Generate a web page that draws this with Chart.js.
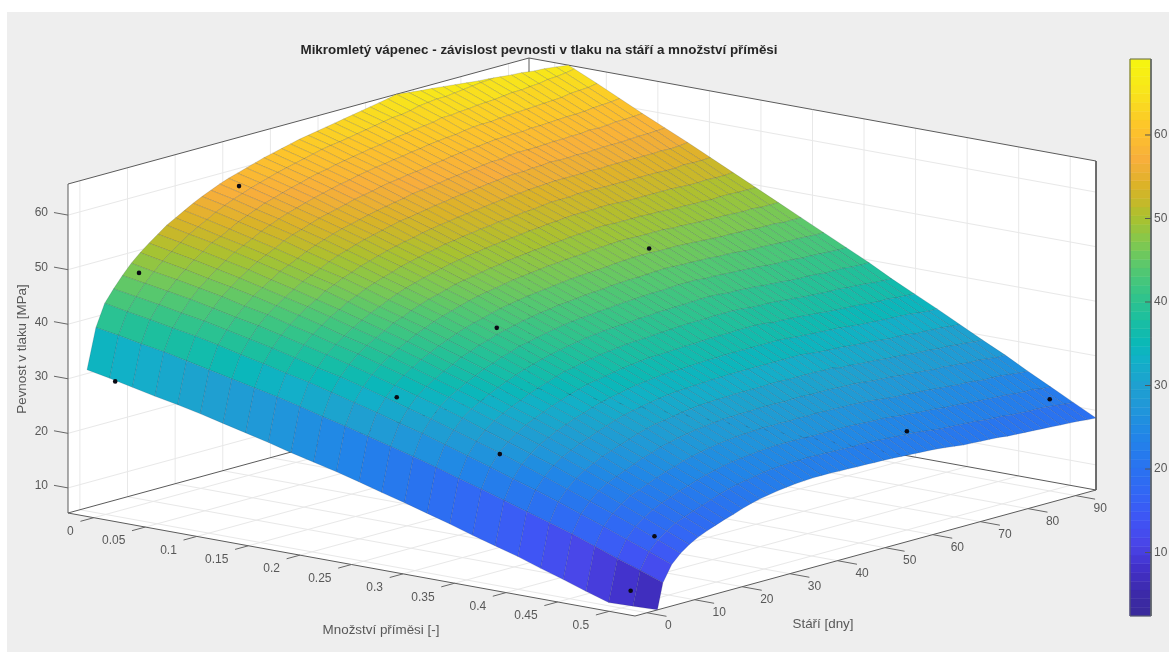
<!DOCTYPE html>
<html>
<head>
<meta charset="utf-8">
<title>Mikromletý vápenec</title>
<script src="https://cdn.jsdelivr.net/npm/chart.js@4"></script>
<style>
    html, body { margin: 0; padding: 0; background: #fff; overflow: hidden; }
    #panel { position: absolute; left: 7px; top: 12px; right: 0; bottom: 0; background: #eeeeee; }
    #chart { position: absolute; left: 0; top: 0; filter: blur(0.4px); }
</style>
</head>
<body>
<div id="panel"></div>
<canvas id="chart" width="1169" height="652"></canvas>
<script>
const titleText = 'Mikromletý vápenec - závislost pevnosti v tlaku na stáří a množství příměsi';
const admixLabel = 'Množství příměsi [-]';
const ageLabel = 'Stáří [dny]';
const strengthLabel = 'Pevnost v tlaku [MPa]';

const admixTicks = [0, 0.05, 0.1, 0.15, 0.2, 0.25, 0.3, 0.35, 0.4, 0.45, 0.5];
const ageTicks = [0, 10, 20, 30, 40, 50, 60, 70, 80, 90];
const strengthTicks = [10, 20, 30, 40, 50, 60];
const colorbarTicks = [10, 20, 30, 40, 50, 60];

// measured points
const dotAdmix = [0, 0, 0, 0.25, 0.25, 0.25, 0.35, 0.5, 0.5, 0.5, 0.5];
const dotAge = [2, 7, 28, 7, 28, 60, 7, 2, 7, 60, 90];
const dotStrength = [29.3, 48, 58.9, 33.8, 41.5, 48.4, 26.8, 8.1, 16.9, 23.5, 22.2];

// fitted surface, one row per age
const admixValues = [-0.025, -0.003, 0.019, 0.041, 0.063, 0.085, 0.107, 0.129, 0.151, 0.173, 0.195, 0.217, 0.239, 0.261, 0.283, 0.305, 0.327, 0.349, 0.371, 0.393, 0.415, 0.437, 0.459, 0.481, 0.503, 0.525];
const ageValues = [1.5, 3.36, 5.21, 7.07, 8.92, 10.78, 12.64, 14.49, 16.35, 18.2, 20.06, 21.92, 23.77, 25.63, 27.48, 29.34, 31.2, 33.05, 34.91, 36.76, 38.62, 40.48, 42.33, 44.19, 46.04, 47.9, 49.76, 51.61, 53.47, 55.32, 57.18, 59.04, 60.89, 62.75, 64.6, 66.46, 68.32, 70.17, 72.03, 73.88, 75.74, 77.6, 79.45, 81.31, 83.16, 85.02, 86.88, 88.73, 90.59, 92.44, 94.3];
const strengthRows = [
    [30.7,29.9,29.0,28.1,27.3,26.4,25.4,24.4,23.4,22.3,21.3,20.3,19.2,18.0,16.9,15.7,14.5,13.2,12.0,10.8,9.4,8.1,6.7,5.4,3.9,2.5],
    [38.0,37.3,36.5,35.8,34.9,34.0,33.1,32.2,31.3,30.3,29.2,28.2,27.1,26.0,24.9,23.7,22.4,21.2,19.9,18.6,17.3,16.0,14.5,13.0,11.6,10.1],
    [42.0,41.2,40.5,39.7,39.0,38.1,37.1,36.2,35.2,34.3,33.2,32.1,31.0,29.8,28.7,27.4,26.1,24.8,23.4,22.1,20.7,19.2,17.7,16.1,14.6,13.0],
    [44.2,43.5,42.8,42.0,41.3,40.4,39.5,38.6,37.6,36.5,35.6,34.5,33.3,32.1,30.9,29.6,28.3,27.0,25.6,24.1,22.6,21.1,19.6,18.0,16.3,14.6],
    [46.2,45.5,44.8,44.1,43.2,42.3,41.5,40.5,39.5,38.5,37.4,36.3,35.1,33.9,32.7,31.4,29.9,28.5,27.1,25.7,24.1,22.6,20.9,19.2,17.5,15.8],
    [48.0,47.2,46.5,45.7,44.9,43.9,43.1,42.0,41.0,39.9,38.9,37.7,36.5,35.2,34.0,32.6,31.2,29.7,28.3,26.8,25.2,23.6,22.0,20.2,18.5,16.7],
    [49.5,48.7,47.9,47.0,46.2,45.3,44.3,43.3,42.2,41.0,40.0,38.8,37.5,36.2,34.9,33.5,32.1,30.7,29.2,27.6,26.0,24.3,22.6,21.0,19.2,17.4],
    [50.8,50.0,49.2,48.3,47.4,46.4,45.4,44.4,43.3,42.1,41.0,39.8,38.5,37.1,35.8,34.4,32.9,31.5,30.0,28.4,26.8,25.0,23.3,21.6,19.8,18.0],
    [52.0,51.2,50.3,49.4,48.5,47.4,46.4,45.3,44.2,43.0,41.8,40.6,39.3,37.9,36.6,35.2,33.6,32.2,30.7,29.0,27.4,25.7,24.0,22.3,20.4,18.6],
    [53.2,52.3,51.5,50.5,49.5,48.5,47.4,46.4,45.2,43.9,42.8,41.5,40.1,38.8,37.4,35.9,34.4,32.9,31.4,29.7,28.0,26.4,24.6,22.8,21.0,19.1],
    [54.1,53.2,52.2,51.3,50.3,49.2,48.1,47.1,45.9,44.6,43.4,42.2,40.8,39.4,38.0,36.6,35.0,33.5,31.9,30.3,28.6,26.9,25.1,23.4,21.6,19.7],
    [55.0,54.1,53.1,52.1,51.1,50.0,48.9,47.9,46.7,45.4,44.2,42.9,41.5,40.1,38.7,37.2,35.6,34.1,32.5,30.9,29.2,27.5,25.7,23.9,22.1,20.2],
    [55.9,55.0,54.0,53.0,52.0,50.8,49.7,48.5,47.3,46.1,44.8,43.5,42.1,40.6,39.2,37.7,36.2,34.6,33.0,31.4,29.7,27.9,26.1,24.3,22.5,20.6],
    [56.7,55.8,54.7,53.7,52.7,51.5,50.4,49.2,47.9,46.7,45.4,44.0,42.6,41.2,39.8,38.2,36.7,35.1,33.4,31.8,30.1,28.3,26.5,24.7,22.8,20.9],
    [57.4,56.5,55.4,54.4,53.2,52.1,50.9,49.7,48.4,47.2,45.8,44.5,43.0,41.6,40.1,38.6,37.0,35.4,33.7,32.1,30.3,28.6,26.8,25.0,23.1,21.2],
    [58.1,57.1,56.1,55.0,53.8,52.7,51.5,50.2,49.0,47.7,46.3,45.0,43.5,42.0,40.5,39.0,37.4,35.7,34.1,32.4,30.6,28.9,27.1,25.2,23.4,21.4],
    [58.7,57.7,56.6,55.5,54.4,53.2,52.0,50.7,49.4,48.1,46.8,45.4,43.9,42.4,40.9,39.3,37.7,36.0,34.4,32.7,30.9,29.1,27.3,25.4,23.6,21.6],
    [59.2,58.2,57.1,56.0,54.8,53.6,52.4,51.1,49.8,48.5,47.1,45.7,44.2,42.7,41.2,39.6,38.0,36.3,34.6,32.9,31.1,29.3,27.5,25.6,23.7,21.7],
    [59.7,58.7,57.6,56.5,55.2,54.0,52.8,51.5,50.2,48.9,47.4,46.0,44.5,43.0,41.5,39.9,38.2,36.5,34.8,33.1,31.3,29.5,27.6,25.7,23.8,21.8],
    [60.2,59.2,58.0,56.9,55.6,54.4,53.2,51.8,50.5,49.2,47.7,46.3,44.8,43.2,41.7,40.1,38.4,36.7,35.0,33.2,31.4,29.5,27.7,25.8,23.8,21.8],
    [60.7,59.6,58.5,57.3,56.1,54.8,53.6,52.2,50.9,49.5,48.0,46.6,45.0,43.5,41.9,40.3,38.6,36.9,35.1,33.3,31.5,29.6,27.8,25.8,23.9,21.8],
    [61.1,60.0,58.9,57.7,56.4,55.1,53.8,52.5,51.1,49.7,48.2,46.8,45.2,43.6,42.0,40.4,38.7,36.9,35.1,33.4,31.5,29.6,27.7,25.8,23.8,21.7],
    [61.5,60.4,59.2,58.0,56.7,55.4,54.1,52.8,51.4,50.0,48.5,47.0,45.4,43.8,42.2,40.5,38.8,37.0,35.2,33.5,31.6,29.7,27.8,25.8,23.8,21.7],
    [61.9,60.8,59.6,58.4,57.1,55.7,54.4,53.0,51.6,50.2,48.7,47.2,45.6,44.0,42.3,40.6,38.9,37.1,35.3,33.5,31.6,29.7,27.7,25.7,23.7,21.6],
    [62.3,61.2,59.9,58.7,57.4,56.1,54.7,53.3,51.9,50.4,48.9,47.4,45.8,44.1,42.5,40.8,39.0,37.2,35.4,33.6,31.6,29.7,27.8,25.7,23.7,21.6],
    [62.6,61.5,60.2,59.0,57.6,56.3,54.9,53.5,52.0,50.6,49.1,47.5,45.9,44.2,42.6,40.8,39.1,37.2,35.4,33.6,31.6,29.6,27.7,25.7,23.6,21.5],
    [62.9,61.7,60.5,59.2,57.9,56.5,55.2,53.7,52.3,50.8,49.2,47.7,46.0,44.4,42.7,41.0,39.2,37.3,35.5,33.6,31.7,29.7,27.8,25.7,23.7,21.5],
    [63.2,62.0,60.8,59.5,58.1,56.7,55.4,53.9,52.4,51.0,49.4,47.8,46.1,44.5,42.8,41.0,39.3,37.4,35.5,33.6,31.7,29.7,27.7,25.7,23.6,21.4],
    [63.5,62.3,61.0,59.7,58.3,57.0,55.6,54.1,52.6,51.1,49.5,47.9,46.2,44.6,42.9,41.1,39.3,37.4,35.5,33.6,31.6,29.6,27.7,25.6,23.5,21.3],
    [63.8,62.6,61.3,60.0,58.6,57.2,55.8,54.3,52.8,51.3,49.7,48.1,46.4,44.6,42.9,41.1,39.3,37.4,35.5,33.6,31.6,29.6,27.6,25.5,23.4,21.2],
    [64.1,62.9,61.6,60.2,58.8,57.4,56.0,54.5,52.9,51.4,49.8,48.2,46.5,44.7,43.0,41.2,39.4,37.5,35.5,33.6,31.6,29.6,27.6,25.4,23.3,21.1],
    [64.4,63.2,61.8,60.5,59.1,57.6,56.2,54.6,53.1,51.6,49.9,48.3,46.6,44.8,43.1,41.3,39.4,37.5,35.5,33.6,31.6,29.5,27.5,25.4,23.2,21.0],
    [64.7,63.5,62.1,60.7,59.3,57.8,56.4,54.8,53.3,51.7,50.1,48.4,46.6,44.9,43.1,41.3,39.4,37.5,35.5,33.6,31.5,29.4,27.4,25.2,23.1,20.9],
    [65.0,63.6,62.3,60.9,59.5,58.0,56.5,54.9,53.3,51.7,50.1,48.4,46.6,44.8,43.1,41.2,39.3,37.4,35.4,33.4,31.5,29.4,27.2,25.0,22.9,20.7],
    [65.3,63.9,62.5,61.0,59.6,58.0,56.5,55.0,53.3,51.7,50.0,48.3,46.5,44.7,42.9,41.0,39.1,37.1,35.2,33.2,31.1,29.2,27.0,24.9,22.7,20.5],
    [65.7,64.3,62.9,61.3,59.8,58.3,56.7,55.1,53.5,51.8,50.0,48.3,46.5,44.7,42.9,41.0,39.0,37.1,35.1,33.1,31.1,29.0,26.8,24.7,22.5,20.3],
    [65.9,64.5,62.9,61.5,60.0,58.4,56.7,55.1,53.5,51.8,50.0,48.3,46.5,44.6,42.8,40.9,39.0,37.0,35.0,33.0,30.9,28.9,26.8,24.6,22.4,20.2],
    [66.1,64.7,63.1,61.6,60.0,58.4,56.9,55.1,53.5,51.7,50.0,48.3,46.4,44.6,42.7,40.8,38.9,36.9,34.9,32.9,30.8,28.8,26.6,24.5,22.3,20.1],
    [66.3,64.7,63.2,61.6,60.1,58.4,56.8,55.1,53.4,51.6,49.9,48.1,46.3,44.4,42.6,40.6,38.7,36.7,34.8,32.7,30.7,28.6,26.5,24.3,22.2,20.0],
    [66.5,64.9,63.4,61.8,60.1,58.5,56.8,55.2,53.4,51.6,49.9,48.1,46.2,44.4,42.5,40.5,38.6,36.6,34.7,32.6,30.5,28.5,26.4,24.2,22.1,19.9],
    [66.7,65.1,63.5,61.9,60.3,58.6,56.9,55.1,53.4,51.6,49.8,48.0,46.1,44.3,42.4,40.4,38.4,36.4,34.5,32.5,30.4,28.3,26.2,24.1,21.9,19.7],
    [66.9,65.3,63.6,62.0,60.3,58.6,56.8,55.2,53.4,51.6,49.7,47.9,46.0,44.1,42.2,40.2,38.3,36.3,34.3,32.3,30.3,28.2,26.1,23.9,21.8,19.6],
    [67.1,65.5,63.8,62.1,60.4,58.7,56.9,55.2,53.4,51.6,49.7,47.9,46.0,44.0,42.1,40.1,38.2,36.2,34.2,32.1,30.1,28.0,25.9,23.8,21.7,19.5],
    [67.3,65.6,64.0,62.2,60.5,58.7,57.0,55.2,53.4,51.6,49.6,47.8,45.9,44.0,42.1,40.1,38.1,36.1,34.1,32.1,30.0,28.0,25.9,23.7,21.5,19.4],
    [67.5,65.8,64.0,62.3,60.6,58.9,57.0,55.2,53.4,51.5,49.6,47.8,45.9,43.9,42.0,40.0,38.1,36.0,34.0,32.0,29.9,27.8,25.7,23.6,21.4,19.3],
    [67.7,66.0,64.2,62.4,60.6,58.8,57.0,55.2,53.3,51.4,49.5,47.7,45.7,43.8,41.8,39.8,37.9,35.8,33.9,31.7,29.7,27.7,25.5,23.5,21.3,19.2],
    [67.9,66.1,64.3,62.5,60.7,58.9,57.1,55.2,53.3,51.4,49.6,47.6,45.7,43.7,41.8,39.8,37.8,35.7,33.8,31.7,29.7,27.5,25.5,23.3,21.3,19.1],
    [68.2,66.4,64.6,62.8,60.9,59.1,57.2,55.3,53.5,51.5,49.6,47.7,45.7,43.7,41.7,39.8,37.7,35.7,33.7,31.6,29.5,27.5,25.4,23.2,21.2,19.0],
    [68.4,66.5,64.7,62.9,61.0,59.1,57.2,55.2,53.4,51.4,49.5,47.5,45.5,43.6,41.6,39.6,37.5,35.5,33.5,31.5,29.4,27.3,25.2,23.2,21.0,18.9],
    [68.7,66.8,64.9,63.0,61.1,59.2,57.3,55.3,53.4,51.4,49.5,47.5,45.5,43.5,41.5,39.5,37.4,35.4,33.3,31.3,29.2,27.1,25.0,22.9,20.8,18.7],
    [69.0,67.1,65.2,63.3,61.3,59.3,57.4,55.5,53.5,51.5,49.5,47.5,45.5,43.5,41.5,39.5,37.3,35.3,33.3,31.2,29.1,27.1,24.9,22.8,20.7,18.6]
];

// colours
const colorLevels = [2.4, 5, 8, 11, 14, 17, 20, 24, 27, 30, 33, 35, 38, 41, 44, 47, 50, 52, 54, 57, 61, 65, 69.1];
const colorValues = ['#3a2a9a', '#3c2aa8', '#4230c8', '#4a45e8', '#3f55f5', '#3366f5', '#2a72f0', '#2185e8', '#2096da', '#1fa0d0', '#12b0c8', '#0ab8b8', '#1cbf9f', '#35c488', '#55c870', '#80c850', '#a8c230', '#c5b92a', '#dcb328', '#f8ae3c', '#fdc52a', '#f8e41c', '#f6f60f'];

// axis limits of the box
const admixMin = -0.025, admixMax = 0.525;
const ageMin = -2.5, ageMax = 94.3;
const strengthMin = 5.4, strengthMax = 65.7;

// view of the box: where its left corner sits and where each axis runs to
const view = { x0: 68, y0: 513, ax: 567, ay: 103, tx: 461, ty: -126, zy: -329 };
const bar = { left: 1130, right: 1151, top: 59, bottom: 616, min: 2.4, max: 69.1 };

function project(a, t, z) {
    const fa = (a - admixMin) / (admixMax - admixMin);
    const ft = (t - ageMin) / (ageMax - ageMin);
    const fz = (z - strengthMin) / (strengthMax - strengthMin);
    return {
        x: view.x0 + fa * view.ax + ft * view.tx,
        y: view.y0 + fa * view.ay + ft * view.ty + fz * view.zy
    };
}

function hexToRgb(hex) {
    return [1, 3, 5].map(i => parseInt(hex.substr(i, 2), 16));
}

function colorFor(z) {
    let i = 0;
    while (i < colorLevels.length - 2 && z > colorLevels[i + 1]) i++;
    const f = Math.min(1, Math.max(0, (z - colorLevels[i]) / (colorLevels[i + 1] - colorLevels[i])));
    const c0 = hexToRgb(colorValues[i]), c1 = hexToRgb(colorValues[i + 1]);
    const mix = c0.map((v, k) => Math.round(v + (c1[k] - v) * f));
    return 'rgb(' + mix.join(',') + ')';
}

// cut a cell against one z plane, keep = +1 above it, -1 below it
function clipCell(poly, plane, keep) {
    const out = [];
    for (let i = 0; i < poly.length; i++) {
        const p = poly[i], q = poly[(i + 1) % poly.length];
        const dp = (p.z - plane) * keep, dq = (q.z - plane) * keep;
        if (dp >= 0) out.push(p);
        if (dp * dq < 0) {
            const f = dp / (dp - dq);
            out.push({ a: p.a + (q.a - p.a) * f, t: p.t + (q.t - p.t) * f, z: plane });
        }
    }
    return out;
}

const lineSet = (pts, color, width) => ({
    data: pts, showLine: true, borderColor: color, borderWidth: width,
    pointRadius: 0, fill: false, tension: 0
});
const shapeSet = (pts, fillColor, borderColor, width) => ({
    data: pts, showLine: true, backgroundColor: fillColor, borderColor: borderColor, borderWidth: width,
    pointRadius: 0, fill: 'shape', tension: 0
});

// list in drawing order (back first), reversed for Chart.js at the end
const layers = [];
const GRID = '#e8e8e8', BOX = '#5a5a5a', TICK = '#666666';

// walls and floor
layers.push(shapeSet([project(admixMin, ageMin, strengthMin), project(admixMin, ageMax, strengthMin), project(admixMin, ageMax, strengthMax), project(admixMin, ageMin, strengthMax), project(admixMin, ageMin, strengthMin)], '#fff', '#fff', 0));
layers.push(shapeSet([project(admixMin, ageMax, strengthMin), project(admixMax, ageMax, strengthMin), project(admixMax, ageMax, strengthMax), project(admixMin, ageMax, strengthMax), project(admixMin, ageMax, strengthMin)], '#fff', '#fff', 0));
layers.push(shapeSet([project(admixMin, ageMin, strengthMin), project(admixMax, ageMin, strengthMin), project(admixMax, ageMax, strengthMin), project(admixMin, ageMax, strengthMin), project(admixMin, ageMin, strengthMin)], '#fff', '#fff', 0));

// grid lines
admixTicks.forEach(a => {
    layers.push(lineSet([project(a, ageMin, strengthMin), project(a, ageMax, strengthMin), project(a, ageMax, strengthMax)], GRID, 1));
});
ageTicks.forEach(t => {
    layers.push(lineSet([project(admixMax, t, strengthMin), project(admixMin, t, strengthMin), project(admixMin, t, strengthMax)], GRID, 1));
});
strengthTicks.forEach(z => {
    layers.push(lineSet([project(admixMin, ageMin, z), project(admixMin, ageMax, z), project(admixMax, ageMax, z)], GRID, 1));
});

// box edges
layers.push(lineSet([project(admixMin, ageMin, strengthMax), project(admixMin, ageMax, strengthMax), project(admixMax, ageMax, strengthMax), project(admixMax, ageMax, strengthMin), project(admixMin, ageMax, strengthMin), project(admixMin, ageMin, strengthMin), project(admixMin, ageMin, strengthMax)], BOX, 1));
layers.push(lineSet([project(admixMin, ageMax, strengthMin), project(admixMin, ageMax, strengthMax)], BOX, 1));
layers.push(lineSet([project(admixMin, ageMin, strengthMin), project(admixMax, ageMin, strengthMin), project(admixMax, ageMax, strengthMin)], BOX, 1));

// axis ticks
admixTicks.forEach(a => {
    layers.push(lineSet([project(a, ageMin, strengthMin), project(a, ageMin - 2.8, strengthMin)], TICK, 1));
});
ageTicks.forEach(t => {
    layers.push(lineSet([project(admixMax, t, strengthMin), project(admixMax + 0.019, t, strengthMin)], TICK, 1));
});
strengthTicks.forEach(z => {
    layers.push(lineSet([project(admixMin, ageMin, z), project(admixMin - 0.0136, ageMin, z)], TICK, 1));
});

// surface cells, far ones first
for (let r = ageValues.length - 2; r >= 0; r--) {
    for (let c = 0; c < admixValues.length - 1; c++) {
        const cell = [
            { a: admixValues[c], t: ageValues[r], z: strengthRows[r][c] },
            { a: admixValues[c + 1], t: ageValues[r], z: strengthRows[r][c + 1] },
            { a: admixValues[c + 1], t: ageValues[r + 1], z: strengthRows[r + 1][c + 1] },
            { a: admixValues[c], t: ageValues[r + 1], z: strengthRows[r + 1][c] }
        ];
        const mean = cell.reduce((s, p) => s + p.z, 0) / 4;
        let poly = clipCell(cell, strengthMax, -1);
        poly = clipCell(poly, strengthMin, 1);
        if (poly.length < 3) continue;
        const pts = poly.map(p => project(p.a, p.t, p.z));
        pts.push(pts[0]);
        layers.push(shapeSet(pts, colorFor(mean), 'rgba(25,35,60,0.27)', 0.6));
    }
}

// colorbar bands
const barY = z => bar.bottom + (z - bar.min) / (bar.max - bar.min) * (bar.top - bar.bottom);
for (let i = 0; i < 64; i++) {
    const z0 = bar.min + (bar.max - bar.min) * i / 64;
    const z1 = bar.min + (bar.max - bar.min) * (i + 1) / 64;
    const col = colorFor((z0 + z1) / 2);
    layers.push(shapeSet([{ x: bar.left, y: barY(z0) }, { x: bar.right, y: barY(z0) }, { x: bar.right, y: barY(z1) }, { x: bar.left, y: barY(z1) }, { x: bar.left, y: barY(z0) }], col, col, 0.5));
}
layers.push(lineSet([{ x: bar.left, y: bar.bottom }, { x: bar.left, y: bar.top }, { x: bar.right, y: bar.top }, { x: bar.right, y: bar.bottom }, { x: bar.left, y: bar.bottom }], '#5f6468', 1));
colorbarTicks.forEach(z => {
    layers.push(lineSet([{ x: bar.right - 6, y: barY(z) }, { x: bar.right, y: barY(z) }], '#555', 1));
});

// measured points on top
layers.push({
    data: dotAdmix.map((a, i) => project(a, dotAge[i], dotStrength[i])),
    showLine: false, pointRadius: 2.3, pointBackgroundColor: '#0a0a14', pointBorderWidth: 0
});

// texts
const textPlugin = {
    id: 'labels3d',
    afterDatasetsDraw(chart) {
        const ctx = chart.ctx, sx = chart.scales.x, sy = chart.scales.y;
        const px = p => ({ x: sx.getPixelForValue(p.x), y: sy.getPixelForValue(p.y) });
        ctx.save();
        ctx.fillStyle = '#585858';
        ctx.font = '12px "Liberation Sans"';
        ctx.textBaseline = 'middle';

        ctx.textAlign = 'right';
        admixTicks.forEach(a => {
            const p = px(project(a, ageMin, strengthMin));
            ctx.fillText(String(a), p.x - 20, p.y + 14);
        });
        ctx.textAlign = 'left';
        ageTicks.forEach(t => {
            const p = px(project(admixMax, t, strengthMin));
            ctx.fillText(String(t), p.x + 18, p.y + 13);
        });
        ctx.textAlign = 'right';
        strengthTicks.forEach(z => {
            const p = px(project(admixMin, ageMin, z));
            ctx.fillText(String(z), p.x - 20, p.y - 2);
        });
        ctx.textAlign = 'left';
        colorbarTicks.forEach(z => {
            ctx.fillText(String(z), sx.getPixelForValue(bar.right + 3), sy.getPixelForValue(barY(z)));
        });

        ctx.textAlign = 'center';
        ctx.font = '13.4px "Liberation Sans"';
        ctx.fillText(admixLabel, 381, 630);
        ctx.fillText(ageLabel, 823, 624);
        ctx.save();
        ctx.translate(22, 349);
        ctx.rotate(-Math.PI / 2);
        ctx.fillText(strengthLabel, 0, 0);
        ctx.restore();

        ctx.fillStyle = '#262626';
        ctx.font = 'bold 13.4px "Liberation Sans"';
        ctx.fillText(titleText, 539, 50);
        ctx.restore();
    }
};

new Chart(document.getElementById('chart'), {
    type: 'scatter',
    data: { datasets: layers.reverse() },
    options: {
        responsive: false,
        animation: false,
        layout: { padding: 0, autoPadding: false },
        scales: {
            x: { type: 'linear', display: false, min: 0, max: 1169 },
            y: { type: 'linear', display: false, min: 0, max: 652, reverse: true }
        },
        plugins: {
            legend: { display: false },
            tooltip: { enabled: false },
            title: { display: false }
        },
        elements: { point: { radius: 0 } }
    },
    plugins: [textPlugin]
});
</script>
</body>
</html>
